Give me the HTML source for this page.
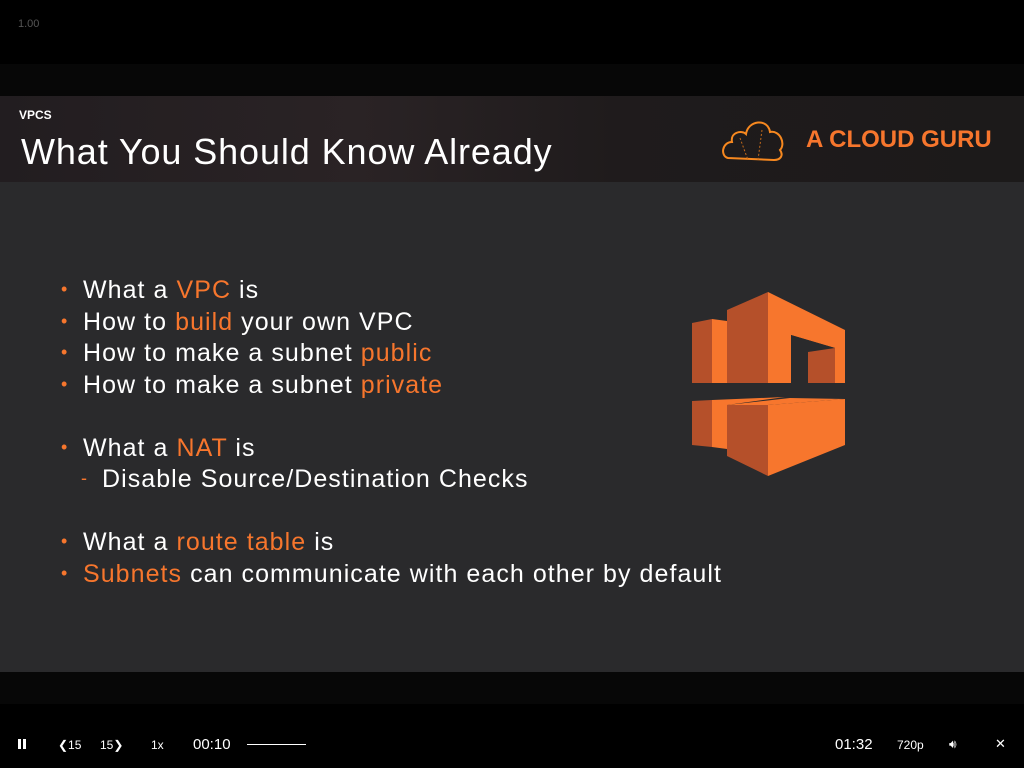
<!DOCTYPE html>
<html><head><style>
*{margin:0;padding:0;box-sizing:border-box}
body{width:1024px;height:768px;background:#000;position:relative;overflow:hidden;font-family:"Liberation Sans",sans-serif;color:#fff}
.abs{position:absolute;white-space:nowrap}
.o{color:#f7762d}
.li{position:absolute;left:83px;font-size:25px;white-space:nowrap;letter-spacing:1.05px}
.b{position:absolute;left:61px;color:#f7762d;font-size:18px}
.ctl{position:absolute;top:736px;font-size:14px;color:#fff}
</style></head><body>
<div class="abs" style="left:18px;top:18px;font-size:11px;color:#555">1.00</div>
<div class="abs" style="left:0;top:64px;width:1024px;height:32px;background:#070707"></div>
<div class="abs" style="left:0;top:96px;width:1024px;height:86px;background:linear-gradient(90deg,#221d20 0%,#2a2325 35%,#1f1b1c 60%,#1c1a1a 100%)"></div>
<div class="abs" style="left:0;top:182px;width:1024px;height:490px;background:#2a2a2c"></div>
<div class="abs" style="left:0;top:672px;width:1024px;height:32px;background:#070707"></div>
<div class="abs" style="left:19px;top:108px;font-size:12px;font-weight:bold">VPCS</div>
<div class="abs" style="left:21px;top:131px;font-size:36px;letter-spacing:0.9px">What You Should Know Already</div>
<svg class="abs" style="left:722px;top:116px" width="64" height="46" viewBox="0 0 64 46"><path d="M6 42 C-2 40,0 26,10 26 C8 16,20 14,24 18 C26 4,46 2,48 16 C58 14,64 28,58 34 C62 40,58 44,52 44 Z" fill="none" stroke="#f7881f" stroke-width="2"/><path d="M18 22 L26 44 M40 14 L36 44" stroke="#c46a1a" stroke-width="1" stroke-dasharray="2 2"/></svg>
<div class="abs" style="left:806px;top:126px;font-size:24px;font-weight:bold;color:#f7762d">A CLOUD GURU</div>

<div class="b" style="top:279px">•</div><div class="li" style="top:276px">What a <span class="o">VPC</span> is</div>
<div class="b" style="top:311px">•</div><div class="li" style="top:308px">How to <span class="o">build</span> your own VPC</div>
<div class="b" style="top:342px">•</div><div class="li" style="top:339px">How to make a subnet <span class="o">public</span></div>
<div class="b" style="top:374px">•</div><div class="li" style="top:371px">How to make a subnet <span class="o">private</span></div>
<div class="b" style="top:437px">•</div><div class="li" style="top:434px">What a <span class="o">NAT</span> is</div>
<div class="b" style="top:468px;left:81px">-</div><div class="li" style="top:465px;left:102px">Disable Source/Destination Checks</div>
<div class="b" style="top:531px">•</div><div class="li" style="top:528px">What a <span class="o">route table</span> is</div>
<div class="b" style="top:563px">•</div><div class="li" style="top:560px"><span class="o">Subnets</span> can communicate with each other by default</div>

<svg class="abs" style="left:0;top:0" width="1024" height="768">
<polygon points="692,323 712,319 712,383 692,383" fill="#b5502a"/>
<polygon points="712,319 727,321 727,383 712,383" fill="#f7762d"/>
<polygon points="727,310 768,292 768,383 727,383" fill="#b5502a"/>
<polygon points="768,292 845,330 845,383 835,383 835,348 791,335 791,383 768,383" fill="#f7762d"/>
<polygon points="791,335 835,348 808,352 808,383 791,383" fill="#2a2a2c"/>
<polygon points="808,352 835,348 835,383 808,383" fill="#b5502a"/>
<polygon points="692,401 712,400 712,447 692,445" fill="#b5502a"/>
<polygon points="712,400 785,397 727,405 727,449 712,447" fill="#f7762d"/>
<polygon points="727,405 768,405 768,476 727,456" fill="#b5502a"/>
<polygon points="727,405 790,398 845,399 768,405" fill="#f7762d"/>
<polygon points="768,405 845,399 845,445 768,476" fill="#f7762d"/>
</svg>

<div class="abs" style="left:18px;top:739px;width:3px;height:10px;background:#fff"></div>
<div class="abs" style="left:23px;top:739px;width:3px;height:10px;background:#fff"></div>
<div class="ctl" style="left:58px;font-size:12px;top:738px">❮15</div>
<div class="ctl" style="left:100px;font-size:12px;top:738px">15❯</div>
<div class="ctl" style="left:151px;font-size:12px;top:738px">1x</div>
<div class="ctl" style="left:193px;font-size:15px">00:10</div>
<div class="abs" style="left:247px;top:744px;width:59px;height:1px;background:#fff"></div>
<div class="ctl" style="left:835px;font-size:15px">01:32</div>
<div class="ctl" style="left:897px;font-size:12px;top:738px">720p</div>
<div class="ctl" style="left:949px;font-size:12px;top:737px">🔊︎</div>
<div class="ctl" style="left:995px;font-size:13px;top:736px">✕</div>
</body></html>
